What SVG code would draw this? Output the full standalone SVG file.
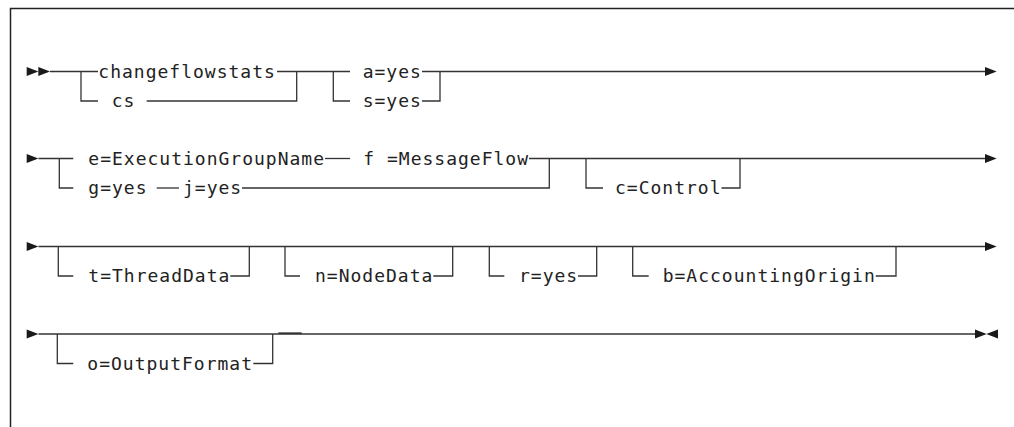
<svg xmlns="http://www.w3.org/2000/svg" width="1014" height="427" viewBox="0 0 1014 427">
<style>
  .t { font-family: "DejaVu Sans Mono", "Liberation Mono", monospace; font-size: 18px; letter-spacing: 1px; fill: #222; }
  .c path { fill: none; stroke: #333; stroke-width: 1.3; }
  .a { fill: #1a1a1a; stroke: none; }
</style>
<defs>
  <path id="ar" d="M0 -4.5 L11.7 0 L0 4.5 Z"/>
  <path id="al" d="M0 -4.5 L-11.7 0 L0 4.5 Z"/>
</defs>
<rect x="0" y="0" width="1014" height="427" fill="#fff"/>
<path d="M10.5 427 V8.5 H1014" fill="none" stroke="#222" stroke-width="1.5"/>

<g id="connectors" class="c">
  <!-- row 1 -->
  <path d="M50 71.5 H98"/>
  <path d="M81 71.5 V101 H98"/>
  <path d="M146.7 101 H296.7 V71.5"/>
  <path d="M277 71.5 H350"/>
  <path d="M333.3 71.5 V101 H350"/>
  <path d="M422 71.5 H985"/>
  <path d="M422 101 H440 V71.5"/>
  <!-- row 2 -->
  <path d="M38.5 158.5 H73.3"/>
  <path d="M59.3 158.5 V188 H73.3"/>
  <path d="M325 158.5 H350"/>
  <path d="M529 158.5 H985"/>
  <path d="M156.7 188 H179"/>
  <path d="M242 188 H549.3 V158.5"/>
  <path d="M586 158.5 V188 H603"/>
  <path d="M721.5 188 H740 V158.5"/>
  <!-- row 3 -->
  <path d="M38.5 246.5 H985"/>
  <path d="M58.3 246.5 V276 H73.3"/>
  <path d="M230.3 276 H249.3 V246.5"/>
  <path d="M285 246.5 V276 H300"/>
  <path d="M433.3 276 H452.7 V246.5"/>
  <path d="M489.3 246.5 V276 H504.3"/>
  <path d="M578 276 H596.7 V246.5"/>
  <path d="M632.7 246.5 V276 H648.7"/>
  <path d="M875.7 276 H896 V246.5"/>
  <!-- row 4 -->
  <path d="M38.5 334 H975"/>
  <path d="M57.3 334 V363.5 H73.3"/>
  <path d="M253.3 363.5 H272.7 V334"/>
  <path d="M278.3 333.2 H301.7" style="stroke-width:1.7"/>
  <!-- arrowheads -->
  <use href="#ar" class="a" x="26.7" y="71.5"/>
  <use href="#ar" class="a" x="38.3" y="71.5"/>
  <use href="#ar" class="a" x="985" y="71.5"/>
  <use href="#ar" class="a" x="26.7" y="158.5"/>
  <use href="#ar" class="a" x="985" y="158.5"/>
  <use href="#ar" class="a" x="26.7" y="246.5"/>
  <use href="#ar" class="a" x="985" y="246.5"/>
  <use href="#ar" class="a" x="26.7" y="334"/>
  <use href="#ar" class="a" x="975" y="334"/>
  <use href="#al" class="a" x="998" y="334"/>
</g>

<g id="n-changeflowstats"><text class="t" x="98.3" y="77.5">changeflowstats</text></g>
<g id="n-cs"><text class="t" x="111.7" y="107">cs</text></g>
<g id="n-a"><text class="t" x="362.7" y="77.5">a=yes</text></g>
<g id="n-s"><text class="t" x="362.7" y="107">s=yes</text></g>
<g id="n-e"><text class="t" x="88.3" y="164.5">e=ExecutionGroupName</text></g>
<g id="n-f"><text class="t" x="363.3" y="164.5">f =MessageFlow</text></g>
<g id="n-g"><text class="t" x="88.3" y="194">g=yes</text></g>
<g id="n-j"><text class="t" x="183" y="194">j=yes</text></g>
<g id="n-c"><text class="t" x="615" y="194">c=Control</text></g>
<g id="n-t"><text class="t" x="88.3" y="282">t=ThreadData</text></g>
<g id="n-n"><text class="t" x="315" y="282">n=NodeData</text></g>
<g id="n-r"><text class="t" x="519" y="282">r=yes</text></g>
<g id="n-b"><text class="t" x="662.7" y="282">b=AccountingOrigin</text></g>
<g id="n-o"><text class="t" x="87.3" y="369.5">o=OutputFormat</text></g>
</svg>
